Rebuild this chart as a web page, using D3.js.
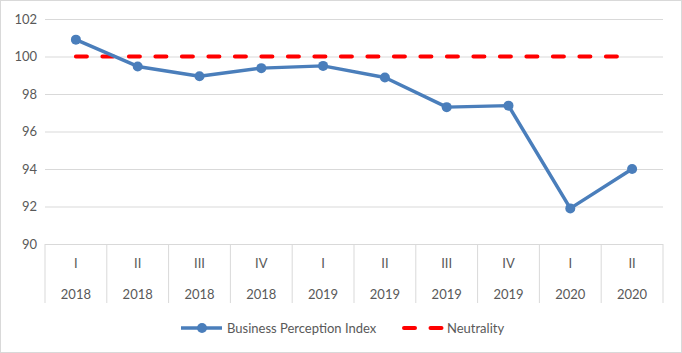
<!DOCTYPE html>
<html>
<head>
<meta charset="utf-8">
<script src="https://cdn.jsdelivr.net/npm/d3@7"></script>
<style>
  body { margin: 0; background: #fff; }
  text { font-family: Lato, "Open Sans", sans-serif; fill: #595959; }
</style>
</head>
<body>
<div id="chart"></div>
<script>
// data
const quarters = ["I", "II", "III", "IV", "I", "II", "III", "IV", "I", "II"];
const years = ["2018", "2018", "2018", "2018", "2019", "2019", "2019", "2019", "2020", "2020"];
const bpi = [100.9, 99.47, 98.95, 99.38, 99.5, 98.88, 97.3, 97.38, 91.9, 94.0];
const neutrality = [100, 100, 100, 100, 100, 100, 100, 100, 100, 100];
const yTicks = [90, 92, 94, 96, 98, 100, 102];

const W = 682, H = 353;
const margin = {top: 19, right: 19, bottom: 109, left: 45},
    width = W - margin.left - margin.right,
    height = H - margin.top - margin.bottom;

const svg = d3.select("#chart")
    .append("svg")
    .attr("width", W)
    .attr("height", H);

// outer border
svg.append("rect")
    .attr("x", 0.5).attr("y", 0.5)
    .attr("width", W - 1).attr("height", H - 1)
    .attr("fill", "#fff")
    .attr("stroke", "#d9d9d9");

const g = svg.append("g")
    .attr("transform", `translate(${margin.left}, ${margin.top})`);

const idx = d3.range(quarters.length);
const x = d3.scaleBand().domain(idx).range([0, width]);
const y = d3.scaleLinear().domain([90, 102]).range([height, 0]);

// y axis + gridlines
const yAxis = g.append("g")
    .call(d3.axisLeft(y).tickValues(yTicks).tickSize(-width).tickPadding(8));
yAxis.select(".domain").remove();
yAxis.selectAll(".tick line").attr("stroke", "#d9d9d9");
yAxis.selectAll(".tick text").style("font-size", "13px").attr("fill", "#595959");

// multi-level category axis
const catH = 59;
const cat = g.append("g").attr("transform", `translate(0, ${height})`);
const bounds = idx.map(i => x(i)).concat([width]);
cat.selectAll("line.sep")
    .data(bounds)
    .join("line")
    .attr("class", "sep")
    .attr("x1", d => d).attr("x2", d => d)
    .attr("y1", 0).attr("y2", catH)
    .attr("stroke", "#d9d9d9");
cat.selectAll("text.q")
    .data(idx)
    .join("text")
    .attr("class", "q")
    .attr("x", i => x(i) + x.bandwidth() / 2)
    .attr("y", 24)
    .attr("text-anchor", "middle")
    .style("font-size", "13px")
    .text(i => quarters[i]);
cat.selectAll("text.yr")
    .data(idx)
    .join("text")
    .attr("class", "yr")
    .attr("x", i => x(i) + x.bandwidth() / 2)
    .attr("y", 55)
    .attr("text-anchor", "middle")
    .style("font-size", "13px")
    .text(i => years[i]);

const cx = i => x(i) + x.bandwidth() / 2;

// neutrality line
g.append("path")
    .datum(idx)
    .attr("fill", "none")
    .attr("stroke", "#ff0000")
    .attr("stroke-width", 4)
    .attr("stroke-linecap", "round")
    .attr("stroke-dasharray", "11,15.5")
    .attr("d", d3.line().x(cx).y(i => y(neutrality[i])));

// BPI line
g.append("path")
    .datum(idx)
    .attr("fill", "none")
    .attr("stroke", "#4a7ebb")
    .attr("stroke-width", 3.5)
    .attr("stroke-linejoin", "round")
    .attr("d", d3.line().x(cx).y(i => y(bpi[i])));

g.selectAll("circle.pt")
    .data(idx)
    .join("circle")
    .attr("class", "pt")
    .attr("cx", cx)
    .attr("cy", i => y(bpi[i]))
    .attr("r", 5)
    .attr("fill", "#4a7ebb");

// legend
const leg = svg.append("g").attr("transform", "translate(0, 328)");
leg.append("line")
    .attr("x1", 181).attr("x2", 222).attr("y1", 0).attr("y2", 0)
    .attr("stroke", "#4a7ebb").attr("stroke-width", 3.5);
leg.append("circle").attr("cx", 202).attr("cy", 0).attr("r", 5).attr("fill", "#4a7ebb");
leg.append("text").attr("x", 227).attr("y", 4.5).style("font-size", "13px")
    .text("Business Perception Index");
leg.append("line")
    .attr("x1", 404).attr("x2", 442).attr("y1", 0).attr("y2", 0)
    .attr("stroke", "#ff0000").attr("stroke-width", 4)
    .attr("stroke-linecap", "round").attr("stroke-dasharray", "11,15.5");
leg.append("text").attr("x", 447).attr("y", 4.5).style("font-size", "13px")
    .text("Neutrality");
</script>
</body>
</html>
